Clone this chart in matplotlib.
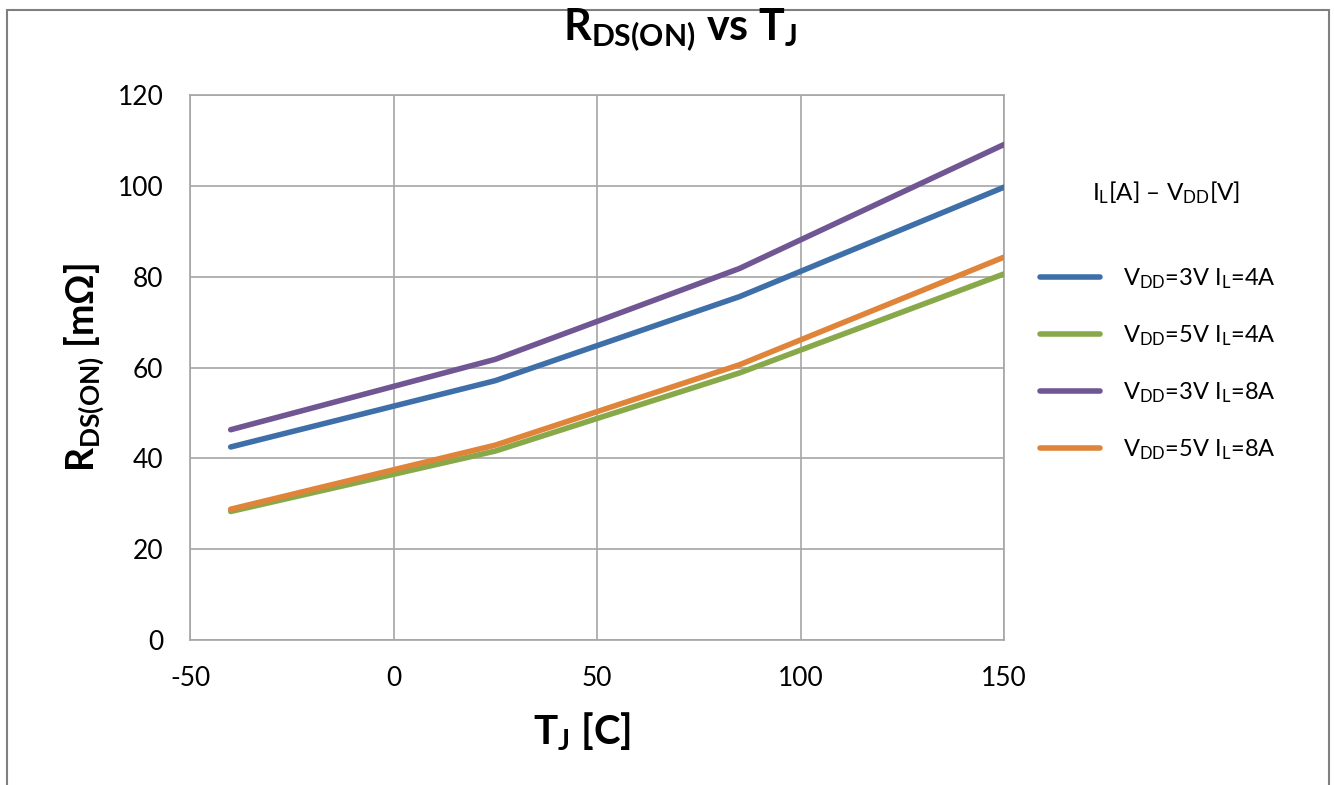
import matplotlib
matplotlib.use("Agg")
import matplotlib.pyplot as plt
from matplotlib.patches import Rectangle

# ---- data ----
temps = [-40, 25, 85, 150]
vdd3_il4 = [42.5, 57.1, 75.6, 99.7]
vdd5_il4 = [28.3, 41.6, 58.8, 80.6]
vdd3_il8 = [46.3, 61.8, 81.8, 109.1]
vdd5_il8 = [28.8, 42.9, 60.6, 84.3]
labels = [r'V$_{\mathrm{DD}}$=3V I$_{\mathrm{L}}$=4A',
          r'V$_{\mathrm{DD}}$=5V I$_{\mathrm{L}}$=4A',
          r'V$_{\mathrm{DD}}$=3V I$_{\mathrm{L}}$=8A',
          r'V$_{\mathrm{DD}}$=5V I$_{\mathrm{L}}$=8A']
colors = ['#3E6FA9', '#88A94A', '#705693', '#E0843A']
xticks = [-50, 0, 50, 100, 150]
yticks = [0, 20, 40, 60, 80, 100, 120]

plt.rcParams['font.family'] = ['Lato', 'DejaVu Sans']
plt.rcParams['mathtext.fontset'] = 'custom'
plt.rcParams['mathtext.rm'] = 'Lato'
plt.rcParams['mathtext.bf'] = 'Lato:bold'
plt.rcParams['mathtext.it'] = 'Lato:italic'
plt.rcParams['axes.unicode_minus'] = False

W, H = 1334, 785
fig = plt.figure(figsize=(W / 100, H / 100), dpi=100)
ax = fig.add_axes([190 / W, 1 - 640 / H, (1004 - 190) / W, (640 - 95) / H])

series = [vdd3_il4, vdd5_il4, vdd3_il8, vdd5_il8]
zorders = [3, 3, 3, 4]
for s, c, lab, z in zip(series, colors, labels, zorders):
    ax.plot(temps, s, color=c, lw=4.0, label=lab, solid_capstyle='round',
            solid_joinstyle='round', zorder=z)

ax.set_xlim(-50, 150)
ax.set_ylim(0, 120)
ax.set_xticks(xticks)
ax.set_yticks(yticks)
ax.grid(True, color='#A6A6A6', lw=1.2)
ax.set_axisbelow(True)
for sp in ax.spines.values():
    sp.set_color('#A6A6A6')
    sp.set_linewidth(1.2)
ax.tick_params(length=0, labelsize=19, pad=19, colors='black')

ax.set_ylabel(r'$\mathbf{R}_{\mathbf{DS(ON)}}$ [m$\mathbf{\Omega}$]', fontsize=27,
              fontweight='bold')
ax.yaxis.set_label_coords(-(190 - 106) / (1004 - 190), 0.5)
ax.set_xlabel(r'$\mathbf{T}_{\mathbf{J}}$ [C]', fontsize=29, fontweight='bold')
ax.xaxis.set_label_coords((582 - 190) / (1004 - 190), -(711 - 640) / (640 - 95))

fig.text(680 / W, 1 - 30 / H, r'$\mathbf{R}_{\mathbf{DS(ON)}}$ vs $\mathbf{T}_{\mathbf{J}}$',
         ha='center', va='center', fontsize=31, fontweight='bold')

fig.text(1166 / W, 1 - 193 / H, r'I$_{\mathrm{L}}$[A] – V$_{\mathrm{DD}}$[V]',
         ha='center', va='center', fontsize=17.5)

leg = fig.legend(loc='upper left', bbox_to_anchor=(1040 / W, 1 - 266 / H),
                 bbox_transform=fig.transFigure, frameon=False, fontsize=17,
                 handlelength=2.55, handletextpad=0.95, labelspacing=1.38,
                 borderpad=0, borderaxespad=0)

fig.add_artist(Rectangle((7 / W, -0.02), (1329 - 7) / W, 1 - 10 / H + 0.02,
                         transform=fig.transFigure, fill=False,
                         edgecolor='#7F7F7F', lw=1.5))

fig.savefig('out.png', dpi=100, facecolor='white')
